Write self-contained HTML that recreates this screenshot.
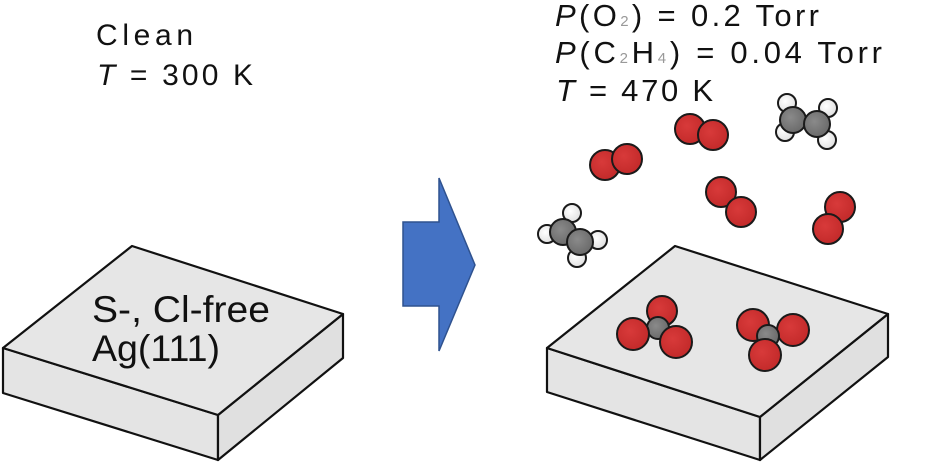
<!DOCTYPE html>
<html><head><meta charset="utf-8"><style>
body{margin:0;background:#fff;}
svg text{font-family:"Liberation Sans",sans-serif;fill:#111;}
</style></head><body>
<svg width="952" height="462" viewBox="0 0 952 462" xmlns="http://www.w3.org/2000/svg">
<defs>
<radialGradient id="gO" cx="0.4" cy="0.4" r="0.7"><stop offset="0" stop-color="#d83a3a"/><stop offset="1" stop-color="#c02828"/></radialGradient>
<radialGradient id="gC" cx="0.4" cy="0.4" r="0.7"><stop offset="0" stop-color="#8a8a8a"/><stop offset="1" stop-color="#666"/></radialGradient>
<radialGradient id="gH" cx="0.4" cy="0.4" r="0.7"><stop offset="0" stop-color="#fff"/><stop offset="1" stop-color="#ddd"/></radialGradient>
</defs>
<g stroke="#111" stroke-width="2.2" stroke-linejoin="round">
<polygon points="3,348 218,415 218,460 3,393" fill="#e4e4e4"/>
<polygon points="218,415 343,314 343,358 218,460" fill="#e0e0e0"/>
<polygon points="132,246 343,314 218,415 3,348" fill="#e6e6e6"/>
<polygon points="547,348 760,417 760,460 547,392" fill="#e4e4e4"/>
<polygon points="760,417 888,314 888,357 760,460" fill="#e0e0e0"/>
<polygon points="675,246 888,314 760,417 547,348" fill="#e6e6e6"/>
</g>
<text x="92" y="322" font-size="37" textLength="178" lengthAdjust="spacingAndGlyphs">S-, Cl-free</text>
<text x="92" y="361" font-size="37" textLength="128" lengthAdjust="spacingAndGlyphs">Ag(111)</text>
<polygon points="403,222 439,222 439,178 475,265 439,351 439,306 403,306" fill="#4472c4" stroke="#2f528f" stroke-width="1.5"/>
<text x="96" y="45" font-size="30" textLength="97" lengthAdjust="spacing">Clean</text>
<text x="97" y="85" font-size="30" textLength="156" lengthAdjust="spacing"><tspan font-style="italic">T</tspan> = 300 K</text>
<text x="555" y="26" font-size="31" textLength="264" lengthAdjust="spacing"><tspan font-style="italic">P</tspan>(O<tspan font-size="15" fill="#999">2</tspan>) = 0.2 Torr</text>
<text x="555" y="63" font-size="31" textLength="327" lengthAdjust="spacing"><tspan font-style="italic">P</tspan>(C<tspan font-size="15" fill="#999">2</tspan>H<tspan font-size="15" fill="#999">4</tspan>) = 0.04 Torr</text>
<text x="556" y="101" font-size="31" textLength="157" lengthAdjust="spacing"><tspan font-style="italic">T</tspan> = 470 K</text>
<g stroke="#1a1a1a" stroke-width="2">
<circle cx="605" cy="165" r="15" fill="url(#gO)"/><circle cx="627" cy="159" r="15" fill="url(#gO)"/>
<circle cx="690" cy="129" r="15" fill="url(#gO)"/><circle cx="713" cy="135" r="15" fill="url(#gO)"/>
<circle cx="721" cy="192" r="15" fill="url(#gO)"/><circle cx="741" cy="212" r="15" fill="url(#gO)"/>
<circle cx="840" cy="207" r="15" fill="url(#gO)"/><circle cx="828" cy="229" r="15" fill="url(#gO)"/>
<circle cx="787" cy="103" r="9" fill="url(#gH)"/><circle cx="828" cy="108" r="9" fill="url(#gH)"/>
<circle cx="785" cy="132" r="9" fill="url(#gH)"/><circle cx="827" cy="140" r="9" fill="url(#gH)"/>
<circle cx="793" cy="120" r="13" fill="url(#gC)"/><circle cx="817" cy="124" r="13" fill="url(#gC)"/>
<circle cx="572" cy="213" r="9" fill="url(#gH)"/><circle cx="547" cy="234" r="9" fill="url(#gH)"/>
<circle cx="598" cy="240" r="9" fill="url(#gH)"/><circle cx="577" cy="258" r="9" fill="url(#gH)"/>
<circle cx="563" cy="232" r="13" fill="url(#gC)"/><circle cx="580" cy="242" r="13" fill="url(#gC)"/>
<circle cx="662" cy="311" r="15" fill="url(#gO)"/>
<circle cx="658" cy="328" r="11" fill="url(#gC)"/>
<circle cx="633" cy="334" r="16" fill="url(#gO)"/>
<circle cx="676" cy="342" r="16" fill="url(#gO)"/>
<circle cx="753" cy="325" r="16" fill="url(#gO)"/>
<circle cx="793" cy="330" r="16" fill="url(#gO)"/>
<circle cx="768" cy="336" r="11" fill="url(#gC)"/>
<circle cx="765" cy="355" r="16" fill="url(#gO)"/>
</g>
</svg>
</body></html>
